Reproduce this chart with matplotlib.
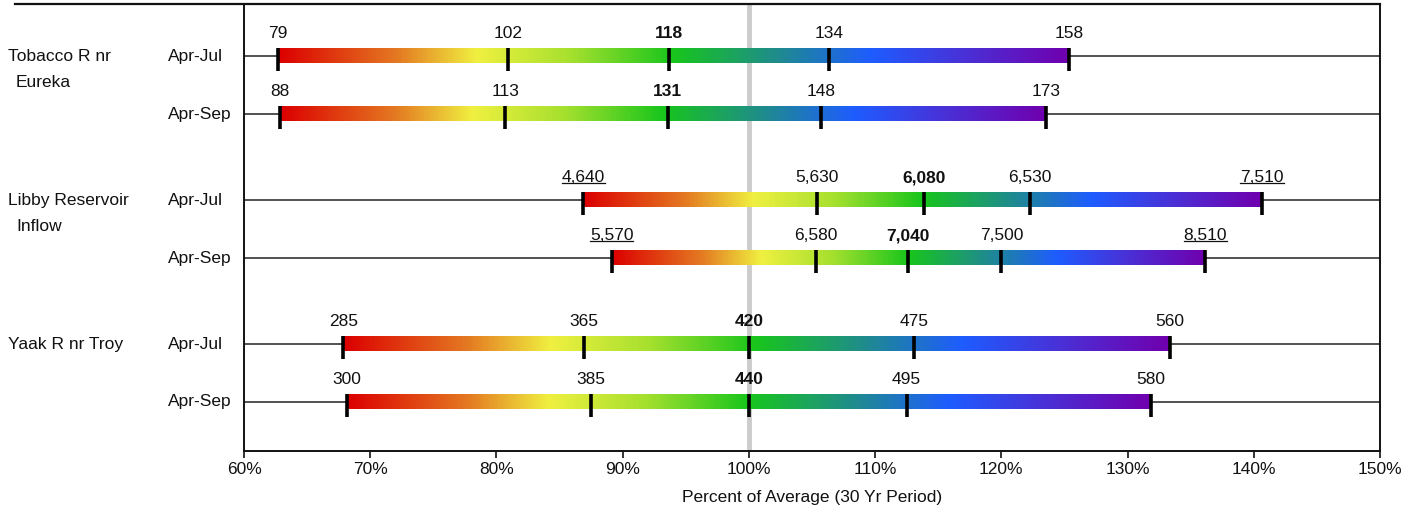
import numpy as np
import matplotlib
matplotlib.use("Agg")
import matplotlib.pyplot as plt
from matplotlib.colors import LinearSegmentedColormap
from matplotlib.lines import Line2D
from matplotlib.transforms import blended_transform_factory, IdentityTransform

plt.rcParams['font.family'] = ['Liberation Sans', 'DejaVu Sans']

# station names (two lines each) and forecast periods
station_line1 = ["Tobacco R nr", "Libby Reservoir", "Yaak R nr Troy"]
station_line2 = ["Eureka", "Inflow", ""]
periods = ["Apr-Jul", "Apr-Sep"]

# forecast volumes at 10/30/50/70/90 % exceedance, one row per station+period
tobacco = [[79, 102, 118, 134, 158],
           [88, 113, 131, 148, 173]]
libby = [[4640, 5630, 6080, 6530, 7510],
         [5570, 6580, 7040, 7500, 8510]]
yaak = [[285, 365, 420, 475, 560],
        [300, 385, 440, 495, 580]]
forecasts = [tobacco, libby, yaak]

# 30 yr averages used to turn volumes into percent of average
averages = [[126, 140], [5340, 6250], [420, 440]]

# values shown underlined
underlined = [[[], []], [[0, 4], [0, 4]], [[], []]]

xticks = [60, 70, 80, 90, 100, 110, 120, 130, 140, 150]

# colour ramp for the bars
ramp = LinearSegmentedColormap.from_list("ramp", [
    (0.00, "#dc0000"), (0.15, "#e47a22"), (0.25, "#f0f040"),
    (0.37, "#a6e02e"), (0.50, "#18c51c"), (0.63, "#1f8c8c"),
    (0.75, "#1e5cff"), (0.87, "#4a30d6"), (1.00, "#7000ae")])

FS = 12.5
TXT = "#111111"

fig = plt.figure(figsize=(14.19, 5.12), dpi=100)
ax = fig.add_axes([244 / 1419, 1 - 451 / 512, (1380 - 244) / 1419, (451 - 4) / 512])

group_gap = 1.483
lab_tr = blended_transform_factory(fig.transFigure, ax.transData)
grad = np.linspace(0, 1, 512).reshape(1, -1)
ul_texts = []
rows_y = []

for g, station in enumerate(forecasts):
    for r, vals in enumerate(station):
        y = g * (1 + group_gap) + r
        rows_y.append(y)
        pct = np.array(vals) / averages[g][r] * 100
        ax.axhline(y, color="#333333", lw=1.2, zorder=1)
        ax.imshow(grad, cmap=ramp, aspect="auto", zorder=3,
                  extent=[pct[0], pct[-1], y + 0.12, y - 0.138])
        ax.vlines(pct, y - 0.138, y + 0.259, color="black", lw=2.6, zorder=4)
        for i, (v, p) in enumerate(zip(vals, pct)):
            t = ax.text(p, y - 0.31, f"{v:,}", ha="center", va="baseline",
                        fontsize=FS, color=TXT,
                        fontweight="bold" if i == 2 else "normal")
            if i in underlined[g][r]:
                ul_texts.append(t)
        ax.text(168 / 1419, y, periods[r], transform=lab_tr, ha="left",
                va="center", fontsize=FS, color=TXT)
    y0 = g * (1 + group_gap)
    ax.text(8 / 1419, y0, station_line1[g], transform=lab_tr, ha="left",
            va="center", fontsize=FS, color=TXT)
    ax.text(16 / 1419, y0 + 0.45, station_line2[g], transform=lab_tr, ha="left",
            va="center", fontsize=FS, color=TXT)

ax.axvline(100, color="#cccccc", lw=3.5, zorder=2)

ax.set_xlim(60, 150)
ax.set_ylim(rows_y[-1] + 0.845, rows_y[0] - 0.897)
ax.set_xticks(xticks)
ax.set_xticklabels([f"{x}%" for x in xticks])
ax.set_yticks([])
ax.tick_params(axis="x", labelsize=FS, length=5, width=1.2, colors=TXT, pad=3)
ax.set_xlabel("Percent of Average (30 Yr Period)", fontsize=FS, color=TXT,
              labelpad=9)
for s in ["left", "bottom", "right"]:
    ax.spines[s].set_linewidth(1.4)
    ax.spines[s].set_color("#111111")
ax.spines["top"].set_visible(False)
fig.add_artist(Line2D([15 / 1419, 1380 / 1419], [1 - 4 / 512, 1 - 4 / 512],
                      color="#111111", lw=1.6, transform=fig.transFigure))

# underline the flagged labels
fig.canvas.draw()
renderer = fig.canvas.get_renderer()
for t in ul_texts:
    bb = t.get_window_extent(renderer)
    yl = bb.y0 + 2
    fig.add_artist(Line2D([bb.x0, bb.x1], [yl, yl], color=TXT, lw=0.9,
                          transform=IdentityTransform()))

fig.savefig("out.png", dpi=100)
